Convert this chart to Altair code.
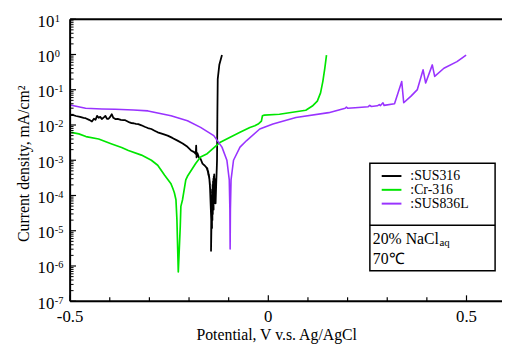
import altair as alt
import pandas as pd

# ---------------- data ----------------
series_names = ["SUS316", "Cr-316", "SUS836L"]
series_colors = ["#000000", "#00e600", "#9933ff"]

sus316_v = [-0.500, -0.494, -0.485, -0.475, -0.466, -0.461, -0.452, -0.445, -0.440, -0.436,
            -0.432, -0.428, -0.424, -0.420, -0.415, -0.411, -0.407, -0.403, -0.399, -0.395,
            -0.391, -0.386, -0.380, -0.372, -0.366, -0.361, -0.356, -0.350, -0.345, -0.340,
            -0.334, -0.328, -0.320, -0.312, -0.304, -0.295, -0.287, -0.279, -0.267, -0.254,
            -0.242, -0.229, -0.216, -0.204, -0.195, -0.187, -0.183, -0.182, -0.181, -0.179,
            -0.175, -0.171, -0.166, -0.160, -0.156, -0.153, -0.154, -0.151, -0.152, -0.149,
            -0.150, -0.147, -0.149, -0.146, -0.148, -0.145, -0.147, -0.144, -0.1445, -0.143,
            -0.1435, -0.142, -0.1425, -0.141, -0.1415, -0.140, -0.1405, -0.139, -0.1395, -0.138,
            -0.1385, -0.137, -0.1375, -0.136, -0.1365, -0.135, -0.1355, -0.134, -0.1345, -0.133,
            -0.1315, -0.1300, -0.1294, -0.1285, -0.1276, -0.1236, -0.1169]
sus316_i = [0.0190, 0.0194, 0.0180, 0.0170, 0.0160, 0.0156, 0.0140, 0.0126, 0.0150, 0.0140,
            0.0182, 0.0160, 0.0170, 0.0147, 0.0165, 0.0182, 0.0150, 0.0150, 0.0170, 0.0202,
            0.0160, 0.0147, 0.0150, 0.0140, 0.0137, 0.0137, 0.0128, 0.0118, 0.0113, 0.0112,
            0.0108, 0.0106, 0.0098, 0.0089, 0.0082, 0.0077, 0.0069, 0.0062, 0.0056, 0.0050,
            0.0043, 0.0036, 0.0030, 0.0024, 0.0019, 0.0017, 0.0015, 0.0026, 0.0012, 0.0016,
            0.0012, 0.0011, 0.0008, 0.0007, 0.00062, 0.00050, 0.00060, 0.00038, 0.00050, 0.00030,
            0.00040, 0.00020, 0.00032, 0.00012, 0.00025, 0.00006, 0.00016, 0.00002, 0.0000027, 0.00003,
            0.00008, 0.000012, 0.00010, 0.00002, 0.00015, 0.00003, 0.00020, 0.00005, 0.00025, 0.00004,
            0.00030, 0.00006, 0.00035, 0.00008, 0.00040, 0.00012, 0.00030, 0.00010, 0.00025, 0.00006,
            0.0002, 0.0006, 0.0010, 0.02, 0.20, 0.51, 0.97]

cr316_v = [-0.497, -0.478, -0.460, -0.428, -0.395, -0.370, -0.353, -0.320, -0.295, -0.279,
           -0.262, -0.246, -0.241, -0.237, -0.233, -0.2306, -0.2271, -0.2221, -0.2206, -0.2164,
           -0.2082, -0.2040, -0.1833, -0.1709, -0.1542, -0.1211, -0.0963, -0.0714, -0.0465, -0.0341,
           -0.0256, -0.0174, -0.0149, -0.0100, 0.0281, 0.0945, 0.1111, 0.1236, 0.1318, 0.1376,
           0.1425, 0.1468]
cr316_i = [0.0062, 0.0056, 0.0047, 0.0040, 0.0029, 0.0023, 0.0019, 0.0014, 0.0010, 0.00072,
           0.00038, 0.00022, 0.00016, 0.00012, 0.000076, 0.000021, 0.00000068, 0.0000136, 0.000049, 0.000076,
           0.000276, 0.00035, 0.00081, 0.00124, 0.00154, 0.00325, 0.0045, 0.0062, 0.0085, 0.0095,
           0.0106, 0.0128, 0.0182, 0.0190, 0.0202, 0.0262, 0.0345, 0.0476, 0.0813, 0.173,
           0.407, 0.966]

sus836l_v = [-0.500, -0.461, -0.420, -0.386, -0.340, -0.3035, -0.2455, -0.2040, -0.1709, -0.1376,
             -0.1169, -0.1045, -0.0985, -0.0970, -0.0963, -0.0956, -0.0940, -0.0878, -0.0714, -0.0547,
             -0.0216, 0.0117, 0.0697, 0.1525, 0.194, 0.197, 0.200, 0.2189, 0.2520, 0.256,
             0.260, 0.275, 0.280, 0.283, 0.2893, 0.292, 0.3184, 0.3366, 0.3416, 0.360,
             0.376, 0.3905, 0.397, 0.4137, 0.4197, 0.443, 0.476, 0.499]
sus836l_i = [0.0368, 0.0298, 0.0285, 0.0279, 0.0265, 0.0251, 0.0182, 0.01315, 0.00854, 0.0050,
             0.00236, 0.0010, 0.000276, 0.00004, 0.00000304, 0.00004, 0.000276, 0.0010, 0.00236, 0.00362,
             0.0077, 0.01064, 0.01625, 0.0224, 0.0298, 0.0320, 0.0300, 0.0310, 0.0330, 0.0360,
             0.0335, 0.0350, 0.0380, 0.0355, 0.0428, 0.0360, 0.0401, 0.170, 0.0428, 0.0658,
             0.101, 0.367, 0.155, 0.507, 0.239, 0.407, 0.627, 0.966]

x_minor_ticks = [-0.4, -0.3, -0.2, -0.1, 0.1, 0.2, 0.3, 0.4]
x_major_ticks = [-0.5, 0.0, 0.5]
x_tick_labels = ["-0.5", "0", "0.5"]
y_exponents = [-7, -6, -5, -4, -3, -2, -1, 0, 1]
y_minor_mult = [2, 3, 4, 5, 6, 7, 8, 9]

x_title = "Potential, V v.s. Ag/AgCl"
y_title = "Current density, mA/cm²"
cond_line1 = "20% NaCl"
cond_sub = "aq"
cond_line2 = "70℃"

# ---------------- build tables ----------------
rows = []
for name, vs, cs in zip(series_names,
                        [sus316_v, cr316_v, sus836l_v],
                        [sus316_i, cr316_i, sus836l_i]):
    for k, (v, c) in enumerate(zip(vs, cs)):
        rows.append({"series": name, "v": v, "i": c, "idx": k})
df = pd.DataFrame(rows)

W, H = 438, 286
FONT = "'Liberation Serif', 'Times New Roman', Times, 'Nimbus Roman', serif"
xs = alt.Scale(domain=[-0.5, -0.5 + W / 402.0], nice=False, zero=False)
ys = alt.Scale(type="log", domain=[1e-7, 10], nice=False)
one = pd.DataFrame({"a": [0]})

lines = alt.Chart(df).mark_line(clip=True, strokeJoin="round").encode(
    x=alt.X("v:Q", scale=xs, axis=None),
    y=alt.Y("i:Q", scale=ys, axis=None),
    color=alt.Color("series:N", scale=alt.Scale(domain=series_names, range=series_colors), legend=None),
    strokeWidth=alt.StrokeWidth("series:N", scale=alt.Scale(domain=series_names, range=[1.8, 1.6, 2.0]), legend=None),
    order=alt.Order("idx:Q"),
)

# frame
top_border = alt.Chart(one).mark_rule(color="black", strokeWidth=2).encode(
    x=alt.value(0), x2=alt.value(W), y=alt.value(0))
left_border = alt.Chart(one).mark_rule(color="black", strokeWidth=2).encode(
    x=alt.value(0), y=alt.value(0), y2=alt.value(H))
bottom_border = alt.Chart(one).mark_rule(color="black", strokeWidth=2).encode(
    x=alt.value(0), x2=alt.value(W), y=alt.value(H))

# ticks (inward)
xmaj = alt.Chart(pd.DataFrame({"v": x_major_ticks})).mark_rule(color="black", strokeWidth=1.2).encode(
    x=alt.X("v:Q", scale=xs, axis=None), y=alt.value(H), y2=alt.value(H - 6))
xmin = alt.Chart(pd.DataFrame({"v": x_minor_ticks})).mark_rule(color="black", strokeWidth=1.2).encode(
    x=alt.X("v:Q", scale=xs, axis=None), y=alt.value(H), y2=alt.value(H - 4))
ymaj = alt.Chart(pd.DataFrame({"i": [10.0 ** e for e in y_exponents]})).mark_rule(color="black", strokeWidth=1.2).encode(
    y=alt.Y("i:Q", scale=ys, axis=None), x=alt.value(0), x2=alt.value(6))
ymin = alt.Chart(pd.DataFrame({"i": [m * 10.0 ** e for e in y_exponents[:-1] for m in y_minor_mult]})).mark_rule(
    color="black", strokeWidth=1).encode(
    y=alt.Y("i:Q", scale=ys, axis=None), x=alt.value(0), x2=alt.value(3.5))

# tick labels
xlab = alt.Chart(pd.DataFrame({"v": x_major_ticks, "lab": x_tick_labels})).mark_text(
    font=FONT, fontSize=17, align="center", baseline="middle", color="black").encode(
    x=alt.X("v:Q", scale=xs, axis=None), y=alt.value(302), text="lab:N")
ylab_df = pd.DataFrame({"e": y_exponents, "i": [10.0 ** e for e in y_exponents],
                        "base": ["10"] * len(y_exponents), "es": [str(e) for e in y_exponents]})
ylab_base = alt.Chart(ylab_df).mark_text(
    font=FONT, fontSize=17, align="left", baseline="middle", dy=2.5, color="black").encode(
    y=alt.Y("i:Q", scale=ys, axis=None), x=alt.value(-33), text="base:N")
ylab_exp = alt.Chart(ylab_df).mark_text(
    font=FONT, fontSize=10.5, align="left", baseline="middle", dy=-0.5, color="black").encode(
    y=alt.Y("i:Q", scale=ys, axis=None), x=alt.value(-15.5), text="es:N")

# axis titles
xt = alt.Chart(one).mark_text(font=FONT, fontSize=16, align="center", baseline="middle", color="black").encode(
    x=alt.value(209.5), y=alt.value(320), text=alt.value(x_title))
yt = alt.Chart(one).mark_text(font=FONT, fontSize=16, align="center", baseline="middle", angle=270,
                              color="black").encode(
    x=alt.value(-46.5), y=alt.value(146.5), text=alt.value(y_title))

# legend box
box = alt.Chart(one).mark_rect(fill="white", stroke="black", strokeWidth=1.5).encode(
    x=alt.value(304), x2=alt.value(431), y=alt.value(146), y2=alt.value(255))
divider = alt.Chart(one).mark_rule(color="black", strokeWidth=1.5).encode(
    x=alt.value(304), x2=alt.value(431), y=alt.value(209))
leg_layers = []
for k, (name, col) in enumerate(zip(series_names, series_colors)):
    yy = 159.0 + 14.0 * k
    leg_layers.append(alt.Chart(one).mark_rule(color=col, strokeWidth=2).encode(
        x=alt.value(316), x2=alt.value(336), y=alt.value(yy)))
    leg_layers.append(alt.Chart(one).mark_text(font=FONT, fontSize=14, align="left", baseline="middle",
                                               color="black").encode(
        x=alt.value(345), y=alt.value(yy), text=alt.value(":" + name)))
cond1 = alt.Chart(one).mark_text(font=FONT, fontSize=16, align="left", baseline="middle", color="black").encode(
    x=alt.value(307), y=alt.value(222.5), text=alt.value(cond_line1))
cond1s = alt.Chart(one).mark_text(font=FONT, fontSize=11, align="left", baseline="middle", color="black").encode(
    x=alt.value(374.5), y=alt.value(227), text=alt.value(cond_sub))
cond2 = alt.Chart(one).mark_text(font=FONT, fontSize=16, align="left", baseline="middle", color="black").encode(
    x=alt.value(307), y=alt.value(243), text=alt.value(cond_line2))

chart = alt.layer(
    lines, xmin, xmaj, ymin, ymaj, top_border, left_border, bottom_border,
    xlab, ylab_base, ylab_exp, xt, yt, box, divider, *leg_layers, cond1, cond1s, cond2
).properties(
    width=W, height=H,
    padding={"left": 63, "top": 9, "right": 0, "bottom": 44},
    autosize=alt.AutoSizeParams(type="none"),
).configure_view(stroke=None).configure(font=FONT)

chart.save("out.html", embed_options={"renderer": "svg", "actions": False})
